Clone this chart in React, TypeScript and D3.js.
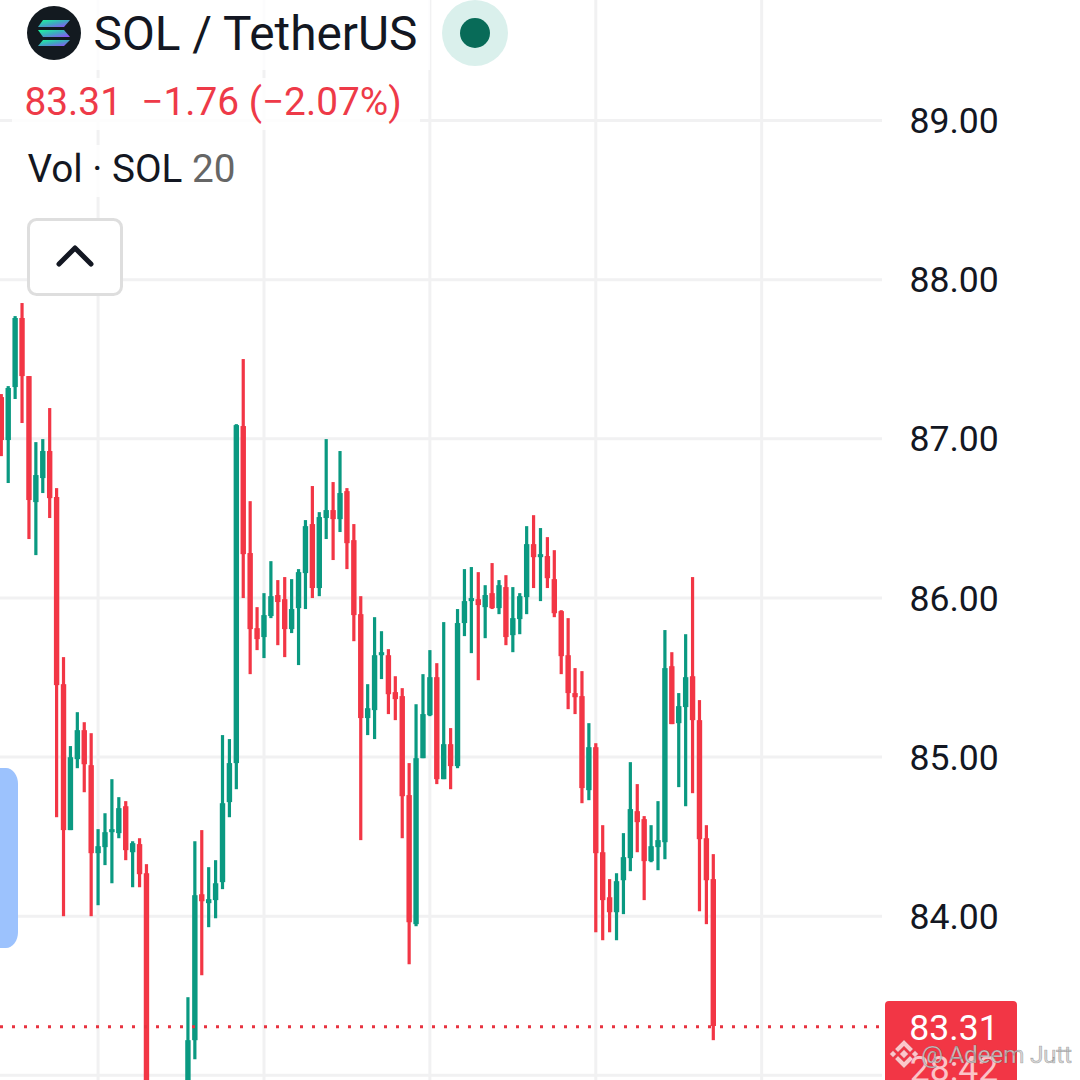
import React from "react";
import * as d3 from "d3";

// OHLC of each candle, in USDT; null = candle lies entirely below the visible window
const opens = [87.262,86.992,87.325,87.759,87.394,86.602,86.753,86.923,86.634,85.458,84.541,84.987,85.169,84.949,84.396,84.434,84.528,84.522,84.691,84.402,84.453,84.27,null,null,null,null,null,82.781,83.221,84.138,84.082,84.101,84.214,84.717,84.962,87.08,86.282,85.81,85.754,85.886,86.018,85.992,85.804,85.936,86.156,86.464,86.062,86.502,86.552,86.495,86.671,86.363,85.898,85.245,85.295,85.64,85.64,85.408,85.383,84.761,83.95,84.993,85.263,85.502,84.861,85.081,84.943,85.842,85.98,85.992,85.942,86.03,85.936,86.068,85.766,85.867,86.005,86.338,86.256,86.263,86.118,85.917,85.64,85.402,85.383,84.792,85.062,84.402,84.119,84.025,84.226,84.365,84.66,84.61,84.346,84.434,84.465,85.571,85.213,85.314,85.508,85.232,84.49,84.233];
const highs = [87.281,87.331,87.771,87.853,87.394,86.979,86.998,87.193,86.69,85.628,85.069,85.282,85.219,85.15,84.547,84.647,84.861,84.748,84.723,84.471,84.49,84.327,null,null,null,null,null,83.491,84.471,84.541,84.308,84.352,85.138,85.113,87.092,87.501,86.608,85.942,86.03,86.231,86.112,86.131,86.118,86.181,86.489,86.703,86.539,86.998,86.728,86.923,86.69,86.464,86.011,85.458,85.879,85.791,85.678,85.508,85.433,84.962,85.332,85.521,85.672,85.59,85.848,85.182,85.93,86.181,86.194,86.162,86.08,86.219,86.112,86.143,86.068,86.03,86.451,86.52,86.439,86.382,86.3,85.923,85.873,85.559,85.54,85.213,85.087,84.572,84.233,84.27,84.522,84.968,84.83,84.629,84.572,84.723,85.798,85.659,85.402,85.772,86.131,85.358,84.572,84.39];
const lows = [86.891,86.722,87.25,87.099,86.37,86.269,86.659,86.502,84.622,84,84.541,84.93,84.779,84,84.069,84.321,84.207,84.49,84.352,84.182,84.182,82.655,null,null,null,null,null,82.655,83.101,83.629,83.931,83.987,84.17,84.622,84.798,85.999,85.521,85.672,85.622,85.873,85.703,85.628,85.779,85.578,85.93,85.999,86.011,86.37,86.238,86.414,86.181,85.728,84.478,85.138,85.113,85.49,85.27,85.232,84.49,83.698,83.937,84.993,85.257,84.83,84.861,84.798,84.93,85.76,85.653,85.483,85.747,85.93,85.898,85.703,85.659,85.772,85.898,86.062,85.98,86.062,85.879,85.521,85.301,85.27,84.71,84.729,83.899,83.849,83.899,83.849,84.013,84.283,84.402,84.101,84.339,84.289,84.358,85.207,84.811,84.691,84.773,84.031,83.95,83.221];
const closes = [86.992,87.319,87.759,87.394,86.615,86.772,86.923,86.627,85.452,84.541,84.999,85.169,84.955,84.396,84.44,84.528,84.547,84.679,84.415,84.459,84.264,82.781,null,null,null,null,null,83.221,84.132,84.094,84.107,84.207,84.71,84.962,87.086,86.275,85.804,85.741,85.892,86.011,85.974,85.804,85.93,86.162,86.451,86.062,86.508,86.552,86.495,86.659,86.344,85.892,85.245,85.307,85.64,85.659,85.395,85.364,84.754,83.962,84.993,85.27,85.502,84.861,85.081,84.943,85.842,85.98,85.999,85.955,86.018,85.936,86.08,85.754,85.873,86.011,86.338,86.256,86.275,86.124,85.904,85.634,85.402,85.376,84.805,85.062,84.396,84.101,84.025,84.22,84.371,84.673,84.591,84.346,84.44,84.478,85.559,85.207,85.32,85.502,85.232,84.484,84.226,83.31];
const bearish = [1,0,0,1,1,0,0,1,1,1,0,0,1,1,0,0,0,0,1,0,1,1,0,0,0,0,0,0,0,1,0,0,0,0,0,1,1,1,0,0,1,1,0,0,0,1,0,0,1,0,1,1,1,0,0,0,1,1,1,1,0,0,0,1,0,1,0,0,0,1,0,1,0,1,0,0,0,1,0,1,1,1,1,1,1,0,1,1,1,0,0,0,1,1,0,0,0,1,0,0,1,1,1,1];

const priceTicks = [83, 84, 85, 86, 87, 88, 89];
const tickLabels = ["89.00", "88.00", "87.00", "86.00", "85.00", "84.00"];
const timeGridIndexes = [14, 38, 62, 86, 110];
const lastPrice = 83.31;
const GREEN = "#0a9981";
const RED = "#f23645";
const INK = "#131722";
const FONT = "Roboto, sans-serif";

const x = d3.scaleLinear().domain([0, 103]).range([1.3, 713.3]);
const y = d3.scaleLinear().domain([84, 89]).range([916.2, 120.5]);

export default function App() {
  const candles = d3.range(opens.length).filter((i) => opens[i] !== null);
  return (
    <svg width={1080} height={1080} viewBox="0 0 1080 1080"
      style={{ position: "fixed", left: 0, top: 0, background: "#fff" }} fontFamily={FONT}>
      <defs>
        <linearGradient id="sol" x1="0" y1="0" x2="1" y2="1">
          <stop offset="0" stopColor="#19fb9b" />
          <stop offset="0.5" stopColor="#3fa8c0" />
          <stop offset="1" stopColor="#9945ff" />
        </linearGradient>
        <clipPath id="plot"><rect x={0} y={0} width={885} height={1080} /></clipPath>
      </defs>

      {priceTicks.map((p) => (
        <line key={p} x1={0} x2={882} y1={y(p)} y2={y(p)} stroke="#f1f1f2" strokeWidth={3} />
      ))}
      {timeGridIndexes.map((i) => (
        <line key={i} x1={x(i)} x2={x(i)} y1={0} y2={1080} stroke="#f1f1f2" strokeWidth={3} />
      ))}

      <g clipPath="url(#plot)">
        {candles.map((i) => {
          const c = bearish[i] ? RED : GREEN;
          const top = y(Math.max(opens[i]!, closes[i]!));
          const bot = y(Math.min(opens[i]!, closes[i]!));
          return (
            <g key={i} fill={c}>
              <rect x={x(i) - 1.6} width={3.2} y={y(highs[i]!)} height={y(lows[i]!) - y(highs[i]!)} />
              <rect x={x(i) - 2.7} width={5.4} y={top} height={Math.max(bot - top, 2)} />
            </g>
          );
        })}
      </g>

      <line x1={0} x2={885} y1={y(lastPrice) + 0.8} y2={y(lastPrice) + 0.8} stroke="#e8323f" strokeWidth={3} strokeDasharray="3 9" />

      {/* header */}
      <rect x={22} y={0} width={408} height={70} fill="#fff" opacity={0.8} />
      <rect x={12} y={78} width={408} height={52} fill="#fff" opacity={0.85} />
      <rect x={20} y={145} width={225} height={52} fill="#fff" opacity={0.85} />
      <circle cx={54} cy={33} r={27} fill="#131a20" />
      <g fill="url(#sol)">
        <polygon points="43,20 70,20 64,27 38,27" />
        <polygon points="38,30 64,30 70,37 43,37" />
        <polygon points="43,40 70,40 64,46 38,46" />
      </g>
      <text x={93.5} y={50} fontSize={47.8} fill={INK}>SOL / TetherUS</text>
      <circle cx={475} cy={33} r={33} fill="#daf0ec" />
      <circle cx={475} cy={33} r={15} fill="#086b58" />

      <text x={24.5} y={115} fontSize={38.8} fill="#ee3a48" xmlSpace="preserve">83.31  −1.76 (−2.07%)</text>
      <text x={27.5} y={182} fontSize={38.7} fill={INK}>Vol · SOL <tspan fill="#666">20</tspan></text>

      <rect x={28.5} y={219.5} width={93} height={75} rx={8} fill="#fff" stroke="#dedede" strokeWidth={3} />
      <polyline points="59,264 75,248 91,264" fill="none" stroke={INK} strokeWidth={5} strokeLinecap="round" strokeLinejoin="round" />

      <path d="M0,768 H6 A12,16 0 0 1 18,784 V932 A12,16 0 0 1 6,948 H0 Z" fill="#9cc2fd" />

      {/* axis */}
      {tickLabels.map((t) => (
        <text key={t} x={909.5} y={y(+t) + 12.7} fontSize={35.6} fill={INK}>{t}</text>
      ))}

      <path d="M885,1005 a4,4 0 0 1 4,-4 H1013 a4,4 0 0 1 4,4 V1080 H885 Z" fill={RED} />
      <text x={954} y={1039.5} textAnchor="middle" fontSize={35.6} fill="#fff">83.31</text>
      <text x={954} y={1081} textAnchor="middle" fontSize={35.6} fill="#fff" opacity={0.7}>28:42</text>

      {/* watermark */}
      <g fill="#fff" fillOpacity={0.72} stroke="#888" strokeOpacity={0.35} strokeWidth={0.6}>
        <rect x={-3} y={-3} width={6} height={6} transform="translate(904,1054) rotate(45)" />
        <rect x={-2.3} y={-2.3} width={4.6} height={4.6} transform="translate(893,1054) rotate(45)" />
        <rect x={-2.3} y={-2.3} width={4.6} height={4.6} transform="translate(915,1054) rotate(45)" />
        <path d="M904,1040 L913,1049 L910,1052 L904,1046 L898,1052 L895,1049 Z" />
        <path d="M904,1068 L913,1059 L910,1056 L904,1062 L898,1056 L895,1059 Z" />
      </g>
      <text x={921} y={1063} fontSize={24.5} textLength={151} fill="#cfcfcf" fillOpacity={0.9} stroke="#555" strokeOpacity={0.45} strokeWidth={0.6}>@ Adeem Jutt</text>
    </svg>
  );
}
